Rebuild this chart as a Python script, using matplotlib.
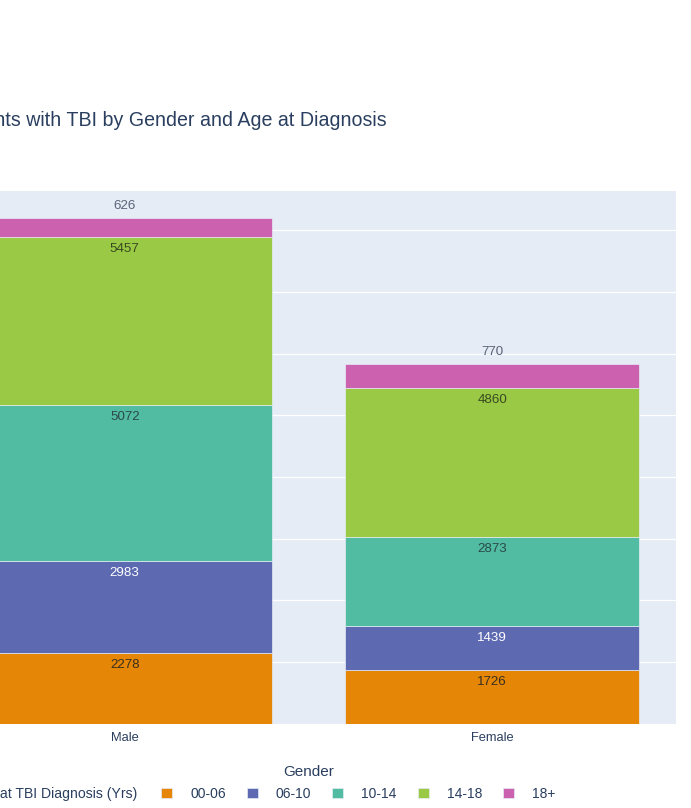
import matplotlib.pyplot as plt
from matplotlib.ticker import MultipleLocator

plt.rcParams['font.family'] = ['Liberation Sans', 'DejaVu Sans']

genders = ['Male', 'Female']
age_groups = ['00-06', '06-10', '10-14', '14-18', '18+']
counts = {
    '00-06': [2278, 1726],
    '06-10': [2983, 1439],
    '10-14': [5072, 2873],
    '14-18': [5457, 4860],
    '18+': [626, 770],
}
colors = ['#E58606', '#5D69B1', '#52BCA3', '#99C945', '#CC61B0']
# label colour inside each segment (light text on the dark blue)
inside_text = ['#3a3020', 'white', '#2a4a48', '#3a4a20', '#2a3f5f']

W, H = 691, 808
fig = plt.figure(figsize=(W / 100, H / 100), dpi=100)
fig.patch.set_facecolor('white')

# plot area runs off the left edge of the canvas
x0, x1, y_top, y_bot = -59, 676, 191, 723.5
ax = fig.add_axes([x0 / W, 1 - y_bot / H, (x1 - x0) / W, (y_bot - y_top) / H])
ax.set_facecolor('#E5ECF6')
for s in ax.spines.values():
    s.set_visible(False)

xs = range(len(genders))
bottoms = [0] * len(genders)
handles = []
for i, grp in enumerate(age_groups):
    vals = counts[grp]
    bars = ax.bar(xs, vals, width=0.8, bottom=bottoms, color=colors[i],
                  edgecolor='#E5ECF6', linewidth=0.5, label=grp, zorder=2)
    handles.append(bars)
    for x, v, b in zip(xs, vals, bottoms):
        top = b + v
        if grp == '18+':
            # too thin for the number, so it sits above the bar
            ax.annotate(str(v), (x, top), xytext=(0, 8.6), textcoords='offset points',
                        ha='center', va='center', fontsize=9.6, color='#5a6478')
        else:
            ax.annotate(str(v), (x, top), xytext=(0, -8.6), textcoords='offset points',
                        ha='center', va='center', fontsize=9.6, color=inside_text[i])
    bottoms = [b + v for b, v in zip(bottoms, vals)]

ax.set_xlim(-0.5, 1.5)
ax.set_ylim(0, 17280)
ax.yaxis.set_major_locator(MultipleLocator(2000))
ax.set_yticklabels([])
ax.grid(axis='y', color='white', linewidth=0.9, zorder=0)
ax.set_axisbelow(True)
ax.set_xticks(list(xs))
ax.set_xticklabels(genders, fontsize=9.3, color='#2a3f5f')
ax.tick_params(axis='both', length=0, pad=6, colors='#2a3f5f')
ax.set_xlabel('Gender', fontsize=11, color='#2a3f5f', labelpad=15)

fig.text(387 / W, 1 - 121 / H, 'Number of Patients with TBI by Gender and Age at Diagnosis',
         ha='right', va='center', fontsize=14.1, color='#2a3f5f')

fig.text(137 / W, 1 - 794 / H, 'Age at TBI Diagnosis (Yrs)', ha='right', va='center',
         fontsize=10.1, color='#2a3f5f')
fig.legend(handles=handles, labels=age_groups, ncol=5, frameon=False,
           loc='center left', bbox_to_anchor=(161 / W, 1 - 794 / H),
           fontsize=10, labelcolor='#2a3f5f', handlelength=0.8, handleheight=0.8,
           handletextpad=1.3, columnspacing=1.5, borderpad=0, borderaxespad=0)

fig.savefig('out.png', dpi=100)
